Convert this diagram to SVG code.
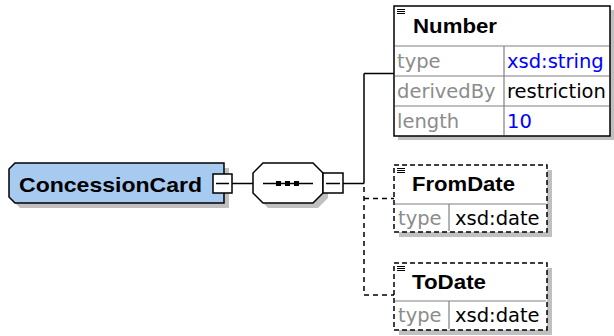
<svg xmlns="http://www.w3.org/2000/svg" width="614" height="336" viewBox="0 0 614 336">
<style>
.bold{font-family:"Liberation Sans",Arial,sans-serif;font-weight:bold;font-size:21px;fill:#000}
.reg{font-family:"DejaVu Sans","Liberation Sans",sans-serif;font-size:19.5px}
.gray{fill:#8c8c8c}
.blue{fill:#0000ff}
.blk{fill:#000}
.shadow{fill:#c0c0c0;stroke:none}
.box{fill:#fff;stroke:#000;stroke-width:1.5}
.dbox{fill:#fff;stroke:#000;stroke-width:1.5;stroke-dasharray:5 3}
.sep{stroke:#808080;stroke-width:1.2;fill:none}
.ln{stroke:#000;stroke-width:1.5;fill:none}
.dln{stroke:#000;stroke-width:1.5;fill:none;stroke-dasharray:5 4}
.ico{stroke:#000;stroke-width:1}
</style>
<g id="connectors">
  <line class="ln" x1="232" y1="183.5" x2="253" y2="183.5"/>
  <line class="ln" x1="343" y1="183.5" x2="364" y2="183.5"/>
  <line class="ln" x1="364" y1="73.5" x2="364" y2="183.5"/>
  <line class="ln" x1="364" y1="73.5" x2="394" y2="73.5"/>
  <line class="dln" x1="364" y1="187" x2="364" y2="295"/>
  <line class="dln" x1="364" y1="198.5" x2="394" y2="198.5"/>
  <line class="dln" x1="364" y1="295" x2="394" y2="295"/>
</g>
<g id="ConcessionCard">
  <path class="shadow" d="M20 168 L229 168 L229 208 L20 208 L14 202 L14 174 Z"/>
  <path d="M15 163 L224 163 L224 203 L15 203 L9 197 L9 169 Z" fill="#a6caf0" stroke="#000" stroke-width="1.5"/>
  <text class="bold" x="19" y="192" textLength="183" lengthAdjust="spacingAndGlyphs">ConcessionCard</text>
  <rect class="box" x="213" y="174" width="19" height="19"/>
  <line class="ln" x1="216" y1="183.5" x2="229" y2="183.5"/>
</g>
<g id="sequence">
  <polygon class="shadow" points="268,168 318,168 328,178 328,198 318,208 268,208 258,198 258,178"/>
  <polygon class="box" points="263,163 313,163 323,173 323,193 313,203 263,203 253,193 253,173"/>
  <line class="ln" x1="263" y1="183.5" x2="313" y2="183.5"/>
  <rect x="276" y="181" width="5" height="5" fill="#000"/>
  <rect x="285" y="181" width="5" height="5" fill="#000"/>
  <rect x="294" y="181" width="5" height="5" fill="#000"/>
  <rect class="box" x="323" y="173" width="20" height="20"/>
  <line class="ln" x1="326" y1="183.5" x2="340" y2="183.5"/>
</g>
<g id="Number">
  <rect class="shadow" x="398" y="10" width="216" height="130"/>
  <rect class="box" x="394" y="6" width="216" height="130"/>
  <line class="sep" x1="395" y1="46" x2="609" y2="46"/>
  <line class="sep" x1="395" y1="76" x2="609" y2="76"/>
  <line class="sep" x1="395" y1="106" x2="609" y2="106"/>
  <line class="sep" x1="504" y1="46" x2="504" y2="135"/>
  <line class="ico" x1="397" y1="9.5" x2="405" y2="9.5"/>
  <line class="ico" x1="397" y1="11.5" x2="405" y2="11.5"/>
  <line class="ico" x1="397" y1="13.5" x2="405" y2="13.5"/>
  <text class="bold" x="413" y="33" textLength="84" lengthAdjust="spacingAndGlyphs">Number</text>
  <text class="reg gray" x="397" y="68">type</text>
  <text class="reg blue" x="507" y="68">xsd:string</text>
  <text class="reg gray" x="397" y="98">derivedBy</text>
  <text class="reg blk" x="507" y="98">restriction</text>
  <text class="reg gray" x="397" y="128">length</text>
  <text class="reg blue" x="507" y="128">10</text>
</g>
<g id="FromDate">
  <rect class="shadow" x="399" y="170" width="153" height="67"/>
  <rect class="dbox" x="394" y="165" width="153" height="67"/>
  <line class="sep" x1="395" y1="204" x2="546" y2="204"/>
  <line class="sep" x1="449" y1="204" x2="449" y2="231"/>
  <line class="ico" x1="397" y1="168.5" x2="405" y2="168.5"/>
  <line class="ico" x1="397" y1="170.5" x2="405" y2="170.5"/>
  <line class="ico" x1="397" y1="172.5" x2="405" y2="172.5"/>
  <text class="bold" x="412" y="191" textLength="103" lengthAdjust="spacingAndGlyphs">FromDate</text>
  <text class="reg gray" x="398" y="225">type</text>
  <text class="reg blk" x="455" y="225">xsd:date</text>
</g>
<g id="ToDate">
  <rect class="shadow" x="399" y="268" width="153" height="67"/>
  <rect class="dbox" x="394" y="263" width="153" height="67"/>
  <line class="sep" x1="395" y1="301" x2="546" y2="301"/>
  <line class="sep" x1="449" y1="301" x2="449" y2="329"/>
  <line class="ico" x1="397" y1="266.5" x2="405" y2="266.5"/>
  <line class="ico" x1="397" y1="268.5" x2="405" y2="268.5"/>
  <line class="ico" x1="397" y1="270.5" x2="405" y2="270.5"/>
  <text class="bold" x="412" y="289" textLength="74" lengthAdjust="spacingAndGlyphs">ToDate</text>
  <text class="reg gray" x="398" y="322">type</text>
  <text class="reg blk" x="455" y="322">xsd:date</text>
</g>
</svg>
